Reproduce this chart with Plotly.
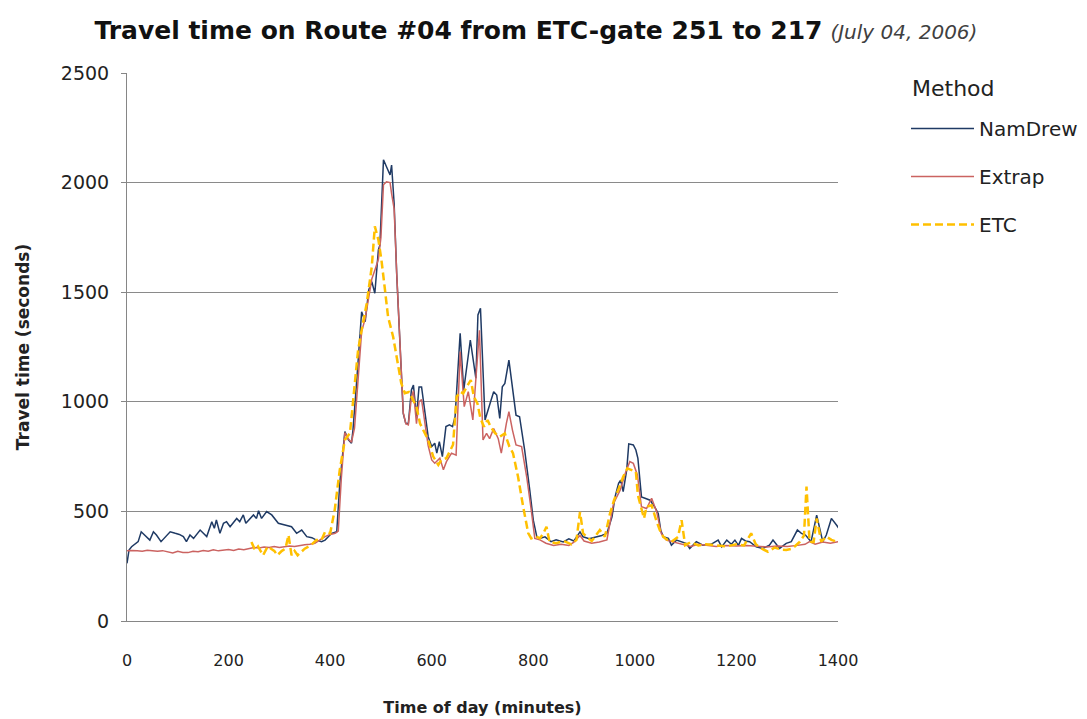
import plotly.graph_objects as go

# ---- data ----
nam_t = [0,4,9,22,28,35,45,52,58,67,75,85,95,103,111,117,124,131,144,157,167,172,176,183,190,196,203,216,222,229,234,249,255,259,265,275,285,298,311,324,334,344,354,364,373,383,390,403,413,419,429,436,442,445,452,462,469,476,482,488,495,498,505,511,518,521,526,531,538,544,549,554,560,564,570,575,580,587,593,600,606,610,615,621,628,635,641,646,656,663,676,687,691,696,705,715,722,728,734,739,744,752,759,766,773,783,793,800,807,813,823,835,845,859,870,880,892,898,910,925,935,945,955,961,968,972,977,984,988,997,1002,1006,1013,1020,1030,1039,1046,1051,1056,1066,1072,1082,1092,1102,1108,1121,1134,1150,1164,1171,1181,1190,1197,1204,1210,1218,1226,1239,1252,1265,1272,1285,1298,1308,1320,1328,1336,1347,1358,1363,1370,1377,1387,1397,1404]
nam_v = [263,324,339,362,407,390,369,407,392,362,380,407,400,395,385,362,392,377,415,385,453,423,461,400,446,453,430,468,453,484,446,484,468,503,468,499,484,446,438,430,400,415,385,380,369,362,369,400,407,628,864,826,811,872,1085,1411,1365,1510,1548,1495,1693,1716,2104,2073,2035,2080,1905,1586,1236,946,901,901,1054,1076,932,1068,1068,932,841,796,811,766,818,750,887,895,887,932,1312,1053,1282,1107,1396,1427,917,993,1046,1031,924,1069,1084,1190,1069,939,932,780,598,460,384,377,384,362,370,361,375,365,407,384,375,384,390,400,475,566,628,643,590,689,808,803,780,742,566,560,551,521,490,414,384,377,346,369,361,353,331,362,346,350,369,338,369,350,369,345,377,365,362,338,331,346,369,331,354,362,415,400,392,362,483,430,362,392,468,438,415]

ext_t = [0,10,20,30,40,50,60,70,80,90,100,110,120,130,140,150,160,170,180,190,200,210,220,230,240,250,260,270,280,290,300,310,320,330,340,350,360,370,380,390,400,410,416,422,429,436,442,448,455,462,469,476,482,488,495,500,505,511,518,521,526,531,538,544,549,554,560,564,570,575,580,587,593,600,606,616,623,629,639,648,656,664,672,681,688,694,701,708,714,722,731,737,747,752,759,766,777,787,796,803,813,825,840,855,870,880,892,900,915,930,945,958,971,981,990,997,1005,1013,1023,1033,1043,1052,1062,1075,1085,1098,1110,1125,1140,1160,1180,1200,1220,1240,1260,1280,1300,1320,1335,1344,1355,1370,1385,1400,1406]
ext_v = [320,322,320,318,323,320,318,321,315,310,318,313,312,318,316,322,318,325,320,323,326,322,328,325,330,335,333,337,335,340,335,338,342,340,345,348,350,355,370,385,395,400,410,650,860,830,815,880,1100,1320,1380,1480,1560,1600,1650,1750,1990,2004,2000,1950,1880,1590,1250,950,900,895,1020,1050,900,1000,1010,900,800,735,720,743,690,727,766,757,1229,978,1046,917,1120,1326,826,856,832,878,832,766,902,955,871,803,796,658,506,377,370,355,345,350,345,360,390,365,355,360,370,536,597,673,727,719,666,521,513,560,498,400,369,361,355,346,340,350,345,340,345,342,345,340,338,342,340,345,350,362,350,360,355,362,358]

etc_t = [245,252,258,268,277,290,296,305,312,318,324,330,336,350,363,373,383,390,400,409,419,429,439,445,455,462,472,482,488,495,501,508,514,524,534,540,547,555,563,570,577,587,593,603,613,619,629,642,649,656,662,669,677,683,690,696,703,710,716,725,734,744,753,760,770,780,790,796,806,813,820,826,832,845,860,875,885,892,898,905,915,931,941,951,959,967,977,985,993,1002,1006,1012,1018,1023,1033,1042,1049,1056,1064,1072,1085,1092,1099,1110,1125,1140,1160,1180,1200,1215,1229,1238,1250,1262,1275,1290,1298,1310,1325,1333,1338,1344,1352,1358,1367,1377,1387,1397,1406]
etc_v = [360,324,340,300,340,320,300,320,330,392,300,320,300,330,347,370,370,407,400,507,690,826,857,993,1236,1327,1449,1617,1800,1739,1647,1510,1388,1297,1175,1085,1039,1045,1010,977,901,857,826,750,712,735,743,804,1023,1046,1038,1069,1099,1023,993,924,886,917,886,856,841,856,795,766,658,522,401,377,385,377,400,430,360,355,365,350,370,498,400,384,365,415,384,490,551,597,658,696,689,681,574,521,468,521,528,460,415,384,370,361,384,460,346,360,345,350,345,340,350,345,400,350,330,316,335,325,324,330,362,390,613,362,360,468,362,385,370,362,350]

x_ticks = [0, 200, 400, 600, 800, 1000, 1200, 1400]
y_ticks = [0, 500, 1000, 1500, 2000, 2500]

FONT = "'DejaVu Sans', Verdana, sans-serif"
TXT = "#222222"

fig = go.Figure()
fig.add_trace(go.Scatter(x=nam_t, y=nam_v, name="NamDrew", mode="lines", legendgroup="a",
                         line=dict(color="#1F3A64", width=1.5)))
fig.add_trace(go.Scatter(x=ext_t, y=ext_v, name="Extrap", mode="lines", legendgroup="b",
                         line=dict(color="#CB6361", width=1.5)))
fig.add_trace(go.Scatter(x=etc_t, y=etc_v, name="ETC", mode="lines", legendgroup="c",
                         line=dict(color="#FFC000", width=2.5, dash="8px,4px")))

fig.add_annotation(text="Method", xref="paper", yref="paper",
                   x=(910 - 127) / 711, y=(621 - 88) / 548, xanchor="left", yanchor="middle",
                   showarrow=False, font=dict(size=22, color=TXT, family=FONT))

fig.update_layout(
    width=1087, height=719,
    margin=dict(l=127, r=249, t=73, b=98, autoexpand=False),
    paper_bgcolor="white", plot_bgcolor="white",
    font=dict(family=FONT, color=TXT, size=17),
    title=dict(
        text="<b>Travel time on Route #04 from ETC-gate 251 to 217</b> <span style='font-size:20px;color:#404040'><i>(July 04, 2006)</i></span>",
        x=0.493, xanchor="center", y=0.958, yanchor="middle",
        font=dict(family=FONT, size=25, color="#111111")),
    legend=dict(
        xref="container", yref="container",
        x=906 / 1087, y=1 - 109 / 719, xanchor="left", yanchor="top",
        font=dict(size=20, color=TXT),
        tracegroupgap=19, itemwidth=63, bgcolor="rgba(0,0,0,0)"),
    xaxis=dict(
        range=[0, 1400], tickvals=x_ticks, ticktext=[str(v) for v in x_ticks],
        showgrid=False, zeroline=False, showline=True, linecolor="#868686", linewidth=1,
        ticks="", ticklabelstandoff=25, tickfont=dict(size=16, color=TXT),
        title=dict(text="<b>Time of day (minutes)</b>", font=dict(size=16), standoff=32)),
    yaxis=dict(
        range=[0, 2500], tickvals=y_ticks, ticktext=[str(v) for v in y_ticks],
        showgrid=True, gridcolor="#8A8A8A", gridwidth=1, zeroline=False,
        showline=True, linecolor="#868686", linewidth=1,
        ticks="outside", ticklen=5, tickcolor="#868686", ticklabelstandoff=8,
        tickfont=dict(size=19, color=TXT),
        title=dict(text="<b>Travel time (seconds)</b>", font=dict(size=17), standoff=26)),
)

fig.write_html("out.html")
